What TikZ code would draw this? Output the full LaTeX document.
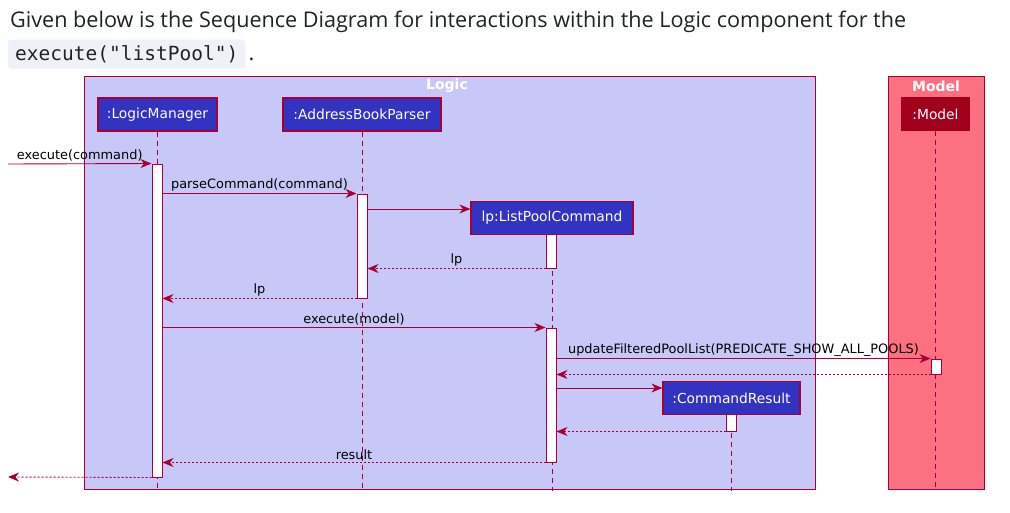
\documentclass[tikz,border=0pt]{standalone}
\usepackage{fontspec}
\setmainfont{Open Sans}
\newfontfamily\umlfont{DejaVu Sans}
\newfontfamily\codefont{DejaVu Sans Mono}
\usetikzlibrary{arrows.meta,positioning,calc}
\definecolor{crimson}{HTML}{A80036}
\definecolor{logicbg}{HTML}{C8C8F8}
\definecolor{modelbg}{HTML}{FC7082}
\definecolor{partblue}{HTML}{3333C2}
\definecolor{partred}{HTML}{A0001C}
\definecolor{codebg}{HTML}{EFF1F9}
\definecolor{inktext}{HTML}{1F2328}

\begin{document}
\begin{tikzpicture}[
  x=1pt,y=-1pt,
  frame/.style={draw=crimson,line width=1pt},
  framelbl/.style={text=white,font=\umlfont\bfseries\fontsize{14}{16}\selectfont,inner sep=0pt},
  part/.style={draw=crimson,fill=partblue,text=white,line width=1.2pt,minimum height=33pt,
    inner xsep=4pt,font=\umlfont\fontsize{13.8}{16}\selectfont},
  modpart/.style={part,fill=partred,draw=partred},
  act/.style={draw=crimson,fill=white,line width=1pt,minimum width=10pt,inner sep=0pt},
  life/.style={draw=crimson,line width=1pt,dash pattern=on 5pt off 4pt},
  msg/.style={draw=crimson,line width=.9pt,-{Stealth[length=11pt,width=9pt,inset=3.5pt]}},
  ret/.style={msg,dash pattern=on 2pt off 2pt},
  lbl/.style={midway,above=1pt,text=black,font=\umlfont\fontsize{12.9}{15}\selectfont,inner sep=1pt}
]
\fill[white] (0,0) rectangle (1010,512);
\useasboundingbox (0,0) rectangle (1010,512);

% heading text
\node[anchor=base west,inner sep=0pt,text=inktext,font=\fontsize{21.6}{26}\selectfont] (title) at (10,27)
  {Given below is the Sequence Diagram for interactions within the Logic component for the};
\node[anchor=west,fill=codebg,rounded corners=3pt,inner xsep=7pt,minimum height=29pt,
  text=inktext,font=\codefont\fontsize{19.5}{23}\selectfont] (code) at (8,54) {execute("listPool")};
\node[anchor=base west,inner sep=0pt,text=inktext,font=\fontsize{21.6}{26}\selectfont] (dot)
  at ([xshift=3pt]code.base east) {.};

% boxes
\draw[frame,fill=logicbg] (84,76) rectangle (815,489);
\draw[frame,fill=modelbg] (888,76) rectangle (984,489);
\node[framelbl] (logiclbl) at (447,86) {Logic};
\node[framelbl] (modellbl) at (936,86) {Model};

% participants
\node[part,minimum width=119pt] (lm)  at (157.5,114.5) {:LogicManager};
\node[part,minimum width=158pt] (abp) at (362,114.5) {:AddressBookParser};
\node[part,minimum width=162pt] (lpc) at (552,218) {lp:ListPoolCommand};
\node[modpart,minimum width=67pt] (mod) at (935.5,114) {:Model};
\node[part,minimum width=137pt] (cr)  at (731.5,398) {:CommandResult};

% lifelines
\coordinate (bot) at (0,491);
\foreach \p in {lm,abp,lpc,mod,cr} \draw[life] (\p.south) -- (\p.south |- bot);

% activations
\node[act,minimum height=313pt] (lmA)   at (157,320.5) {};
\node[act,minimum height=104pt] (abpA)  at (362,246) {};
\node[act,minimum height=34pt]  (lpcA1) at (551,251) {};
\node[act,minimum height=134pt] (lpcA2) at (551,395) {};
\node[act,minimum height=15pt]  (modA)  at (936,366.5) {};
\node[act,minimum height=17pt]  (crA)   at (731,422.5) {};

% messages
\coordinate (inc) at (8,164);
\coordinate (outc) at (8,477);
\coordinate (mk1) at ([yshift=9pt]lpc.west);
\coordinate (mk2) at ([yshift=10pt]cr.west);
\draw[msg] (inc) -- (lmA.north west) node[lbl] {execute(command)};
\draw[msg] (abpA.north west -| lmA.east) -- (abpA.north west) node[lbl] {parseCommand(command)};
\draw[msg] (mk1 -| abpA.east) -- (mk1);
\draw[ret] (lpcA1.south west) -- (lpcA1.south west -| abpA.east) node[lbl] {lp};
\draw[ret] (abpA.south west) -- (abpA.south west -| lmA.east) node[lbl] {lp};
\draw[msg] (lpcA2.north west -| lmA.east) -- (lpcA2.north west) node[lbl] {execute(model)};
\draw[msg] (modA.north west -| lpcA2.east) -- (modA.north west)
  node[lbl] {updateFilteredPoolList(PREDICATE\_SHOW\_ALL\_POOLS)};
\draw[ret] (modA.south west) -- (modA.south west -| lpcA2.east);
\draw[msg] (mk2 -| lpcA2.east) -- (mk2);
\draw[ret] (crA.south west) -- (crA.south west -| lpcA2.east);
\draw[ret] (lpcA2.south west) -- (lpcA2.south west -| lmA.east) node[lbl] {result};
\draw[ret] (lmA.south west) -- (outc);
\end{tikzpicture}
\end{document}
